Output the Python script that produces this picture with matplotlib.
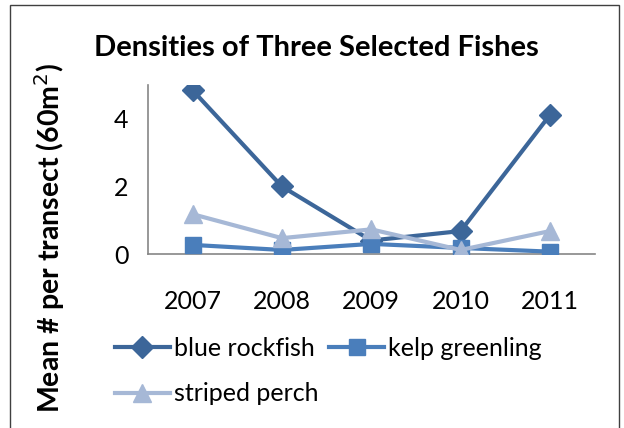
import matplotlib.pyplot as plt
from matplotlib.patches import Rectangle

# Data
years = ['2007', '2008', '2009', '2010', '2011']
blue_rockfish = [4.85, 2.0, 0.4, 0.68, 4.12]
kelp_greenling = [0.27, 0.12, 0.3, 0.18, 0.07]
striped_perch = [1.18, 0.47, 0.73, 0.12, 0.68]

plt.rcParams['font.family'] = ['Lato', 'DejaVu Sans']

fig = plt.figure(figsize=(6.24, 4.28), dpi=100)
ax = fig.add_axes([0.237, 0.4065, 0.716, 0.3945])

x = range(len(years))
l1, = ax.plot(x, blue_rockfish, color='#3C6699', lw=3, marker='D', ms=11, label='blue rockfish', zorder=3)
l2, = ax.plot(x, kelp_greenling, color='#4A7EBB', lw=3, marker='s', ms=12, label='kelp greenling', zorder=3)
l3, = ax.plot(x, striped_perch, color='#A6B8D6', lw=3, marker='^', ms=13, label='striped perch', zorder=3)

ax.set_xlim(-0.5, len(years) - 0.5)
ax.set_ylim(0, 5)
ax.set_yticks([0, 2, 4])
ax.set_xticks(list(x))
ax.set_xticklabels(years)
ax.tick_params(length=0, labelsize=18)
ax.tick_params(axis='x', pad=26)
ax.tick_params(axis='y', pad=14)

for side in ['top', 'right']:
    ax.spines[side].set_visible(False)
for side in ['left', 'bottom']:
    ax.spines[side].set_color('#868686')
    ax.spines[side].set_linewidth(1.2)

fig.text(0.507, 0.888, 'Densities of Three Selected Fishes', ha='center', va='center',
         fontsize=21, fontweight='bold')
fig.text(0.08, 0.444, 'Mean # per transect (60m$^2$)', rotation=90, ha='center', va='center',
         fontsize=20.5, fontweight='bold')

# column-major fill: put striped perch under blue rockfish
fig.legend([l1, l3, l2], ['blue rockfish', 'striped perch', 'kelp greenling'],
           loc='upper left', bbox_to_anchor=(0.168, 0.236), ncol=2, frameon=False,
           fontsize=18, handlelength=2.2, handletextpad=0.15, columnspacing=0.45,
           labelspacing=0.9, borderaxespad=0, bbox_transform=fig.transFigure)

fig.patches.append(Rectangle((10 / 624, -0.01), 609 / 624, 1 - 5 / 428 + 0.01,
                             transform=fig.transFigure, fill=False,
                             edgecolor='#404040', lw=1.0))

plt.savefig('out.png', dpi=100)
